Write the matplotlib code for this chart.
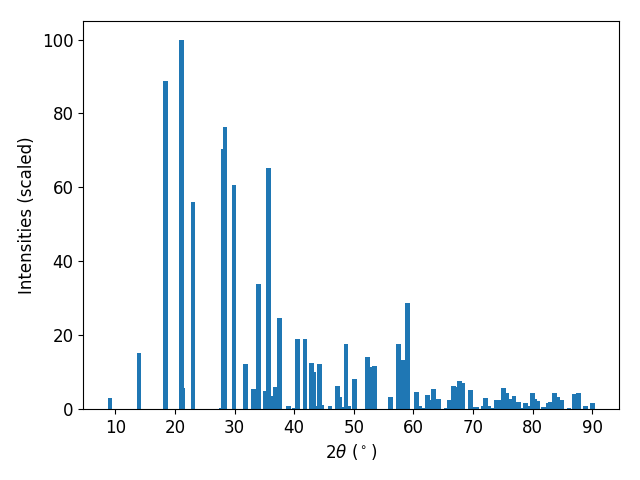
"""Simulated XRD pattern as bars."""

import matplotlib
matplotlib.use("Agg")
import matplotlib.pyplot as plt

two_theta = [
    9.08, 13.95, 18.4, 21.1, 21.35, 23.0, 27.75, 28.1, 28.4, 29.9,
    31.8, 33.2, 34.0, 35.1, 35.7, 36.05, 36.8, 37.5, 39.1, 40.0,
    40.5, 41.8, 42.9, 43.3, 43.6, 44.2, 44.6, 46.0, 47.3, 47.7,
    47.95, 48.7, 49.2, 50.1, 52.2, 52.35, 52.8, 53.0, 53.45, 56.1,
    57.5, 58.2, 59.0, 60.5, 61.0, 61.9, 62.35, 62.8, 63.4, 64.2,
    65.5, 66.1, 66.7, 67.0, 67.7, 68.3, 69.6, 70.1, 70.6, 71.7,
    72.1, 72.7, 73.4, 74.0, 74.4, 75.1, 75.7, 76.3, 76.9, 77.2,
    77.7, 78.3, 78.8, 79.3, 80.0, 80.4, 80.9, 81.8, 82.6, 83.0,
    83.7, 84.2, 84.8, 86.1, 87.1, 87.7, 88.9, 90.0,
]
intensity = [
    3.0, 15.2, 88.9, 100.0, 5.7, 56.1, 0.3, 70.5, 76.4, 60.7,
    12.2, 5.4, 33.9, 4.9, 65.3, 3.5, 6.0, 24.7, 0.8, 0.3,
    19.0, 19.0, 12.5, 10.0, 0.8, 12.2, 1.1, 0.8, 6.2, 3.3,
    0.5, 17.6, 0.8, 8.1, 4.3, 14.1, 11.4, 3.9, 11.6, 3.3,
    17.6, 13.3, 28.7, 4.6, 0.8, 0.3, 3.8, 2.4, 5.4, 2.7,
    0.3, 2.4, 6.2, 6.0, 7.6, 7.0, 5.1, 0.5, 0.5, 0.8,
    3.0, 0.8, 0.3, 2.4, 2.4, 5.7, 4.3, 2.7, 3.5, 0.8,
    1.9, 0.3, 1.6, 0.8, 4.3, 2.7, 2.2, 0.5, 1.6, 1.9,
    4.3, 3.3, 2.4, 0.3, 4.1, 4.3, 0.8, 1.6,
]
xticks = [10, 20, 30, 40, 50, 60, 70, 80, 90]


def main():
    plt.rcParams["font.size"] = 12
    fig, ax = plt.subplots(figsize=(6.4, 4.8), dpi=100)
    ax.bar(two_theta, intensity, width=0.8, color="#1f77b4")
    ax.set_xticks(xticks)
    ax.set_xlabel(r"$2\theta$ ($^\circ$)")
    ax.set_ylabel("Intensities (scaled)")
    fig.subplots_adjust(left=0.13, right=0.967, top=0.956, bottom=0.148)
    fig.savefig("out.png")
    plt.close(fig)


if __name__ == "__main__":
    main()
